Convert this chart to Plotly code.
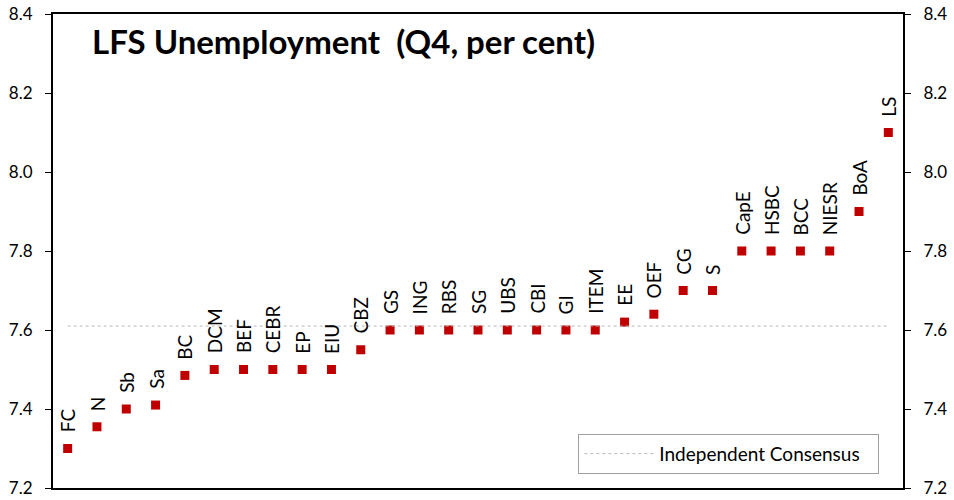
import plotly.graph_objects as go

forecasters = ["FC", "N", "Sb", "Sa", "BC", "DCM", "BEF", "CEBR", "EP", "EIU", "CBZ",
               "GS", "ING", "RBS", "SG", "UBS", "CBI", "GI", "ITEM", "EE", "OEF",
               "CG", "S", "CapE", "HSBC", "BCC", "NIESR", "BoA", "LS"]
values = [7.30, 7.355, 7.40, 7.41, 7.485, 7.50, 7.50, 7.50, 7.50, 7.50, 7.55,
          7.60, 7.60, 7.60, 7.60, 7.60, 7.60, 7.60, 7.60, 7.62, 7.64,
          7.70, 7.70, 7.80, 7.80, 7.80, 7.80, 7.90, 8.10]
consensus = 7.61
y_ticks = [7.2, 7.4, 7.6, 7.8, 8.0, 8.2, 8.4]

FONT = "Lato"
idx = list(range(len(forecasters)))

fig = go.Figure()
fig.add_trace(go.Scatter(
    x=idx, y=[consensus] * len(idx), mode="lines",
    line=dict(color="#b8b8b8", width=1, dash="dot"),
    name="Independent Consensus", showlegend=True, yaxis="y2", hoverinfo="skip"))
fig.add_trace(go.Scatter(
    x=idx, y=values, mode="markers",
    marker=dict(symbol="square", size=9, color="#C00000"),
    showlegend=False, text=forecasters))

for i, (lab, v) in enumerate(zip(forecasters, values)):
    fig.add_annotation(x=i, y=v, text=lab, textangle=-90, showarrow=False,
                       xanchor="center", yanchor="bottom", yshift=14,
                       font=dict(family=FONT, size=19, color="black"))

fig.add_annotation(xref="paper", yref="paper", x=0.044, y=0.944,
                   text="<b>LFS Unemployment  (Q4, per cent)</b>", showarrow=False,
                   xanchor="left", yanchor="middle",
                   font=dict(family=FONT, size=33, color="black"))

axis_y = dict(range=[7.2, 8.4], tickvals=y_ticks, ticktext=[f"{t:.1f}" for t in y_ticks],
              showgrid=False, zeroline=False, showline=True, linecolor="black", linewidth=2,
              ticks="outside", ticklen=6, tickcolor="black", tickwidth=1, automargin=False,
              ticklabelstandoff=9, ticklabeloverflow="allow",
              tickfont=dict(family=FONT, size=17, color="black"))

fig.update_layout(
    width=954, height=500,
    margin=dict(l=53, r=51, t=14, b=12),
    plot_bgcolor="white", paper_bgcolor="white",
    xaxis=dict(range=[-0.5, len(idx) - 0.5], showticklabels=False, showgrid=False,
               zeroline=False, showline=True, linecolor="black", linewidth=2,
               mirror=True, ticks="", automargin=False),
    yaxis=dict(**axis_y, side="left"),
    yaxis2=dict(**axis_y, side="right", overlaying="y", matches="y"),
    legend=dict(x=0.618, y=0.03, xanchor="left", yanchor="bottom", orientation="h",
                bordercolor="#a0a0a0", borderwidth=1, bgcolor="white",
                font=dict(family=FONT, size=19, color="black"),
                entrywidth=214, itemwidth=70),
)

fig.write_html("out.html", config={"displayModeBar": False},
               post_script="document.body.style.margin='0px';document.body.style.overflow='hidden';")
